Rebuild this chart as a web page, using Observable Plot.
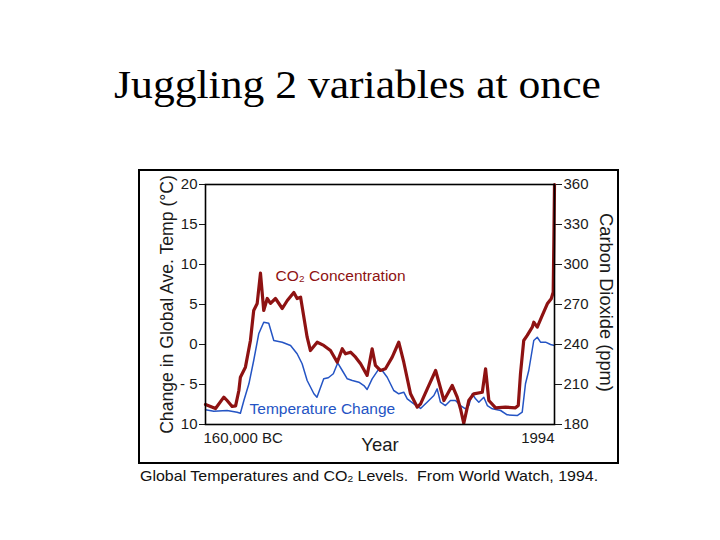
<!DOCTYPE html>
<html><head><meta charset="utf-8">
<script src="https://cdn.jsdelivr.net/npm/d3@7"></script>
<script src="https://cdn.jsdelivr.net/npm/@observablehq/plot@0.6"></script>
<style>
html,body{margin:0;padding:0;background:#fff;width:720px;height:540px;overflow:hidden;position:relative}
#title{position:absolute;left:0;width:715px;top:65px;text-align:center;font:40px/40px "Liberation Serif","Times New Roman",serif;color:#000;white-space:nowrap;transform:scaleX(1.09);transform-origin:357.5px 0}
#box{position:absolute;left:138px;top:169px;width:477px;height:291px;border:2px solid #000;background:#fff}
#chart{position:absolute;left:0;top:0}
#caption{position:absolute;left:140px;top:467px;font:15px/18px "Liberation Sans",Arial,sans-serif;color:#111;white-space:pre;transform:scaleX(1.065);transform-origin:0 0}
#caption sub{font-size:9.5px;vertical-align:-1px}
</style>
</head><body>
<div id="title">Juggling 2 variables at once</div>
<div id="box"><div id="chart"></div></div>
<div id="caption">Global Temperatures and CO<sub>2</sub> Levels.  From World Watch, 1994.</div>
<script>
// x: thousands of years relative to 1994 (−160 = 160,000 BC)
const co2Years = [-160,-155.4,-151.6,-150.1,-147.8,-146.2,-144.7,-144.0,-141.7,-139.4,-137.9,-136.3,-134.8,-133.3,-131.7,-130.2,-127.9,-124.8,-122.5,-119.5,-118.0,-116.4,-114.9,-113.4,-111.9,-108.8,-105.8,-102.7,-99.6,-97.3,-95.8,-93.5,-91.2,-88.9,-85.9,-83.6,-82.1,-79.8,-77.5,-74.4,-71.4,-69.1,-66.0,-62.9,-61.4,-57.6,-54.5,-53.0,-50.7,-46.9,-44.6,-43.1,-41.6,-39.3,-37.0,-33.1,-31.6,-30.1,-27.0,-22.5,-17.9,-16.6,-15.6,-14.1,-12.5,-10.2,-9.5,-7.9,-5.6,-3.3,-1.5,-0.6,-0.3,0];
const co2Values = [195,192,200.5,198,193.5,194,205.5,215.5,223,243,265.5,270.8,293.5,265.5,274.5,270.8,274.5,267,273,279,274.5,275.5,260.5,245.5,235.5,241.7,239.3,235.5,226.7,236.8,233,234.2,230.5,225.5,216.8,236.8,224.3,220.5,221.8,230.5,241.7,226.7,203,193,195.5,209.3,220.5,211.7,198,209.3,200.5,191.8,180.8,198,203,204.2,221.8,198,192.5,193,192.5,194.3,218,243,246.8,253,256.7,253,261.8,270.5,274.3,279.2,316.7,360];
const tempYears = [-160,-156.2,-150.1,-145.5,-144.0,-142.4,-140.1,-137.9,-135.6,-133.3,-131.0,-128.7,-124.8,-121.0,-118.0,-115.7,-113.4,-110.3,-108.9,-105.8,-103.7,-101.4,-99.4,-97.3,-95.0,-92.7,-89.7,-87.4,-85.9,-83.6,-80.5,-79.0,-76.7,-73.7,-71.4,-69.1,-67.5,-64.5,-61.4,-58.3,-55.3,-53.8,-52.3,-50.0,-47.7,-45.4,-43.1,-40.8,-39.3,-37.7,-36.2,-34.7,-32.4,-30.8,-28.5,-24.7,-21.7,-17.1,-14.8,-13.3,-11.8,-9.5,-7.9,-6.4,-4.1,-1.8,0];
const tempValues = [-8.16,-8.34,-8.25,-8.46,-8.59,-7.0,-4.91,-2.0,1.34,2.79,2.66,0.5,0.29,-0.13,-1.16,-2.41,-4.5,-6.16,-6.59,-4.29,-4.16,-3.66,-2.31,-3.25,-4.29,-4.5,-4.71,-5.13,-5.63,-4.29,-3.04,-3.25,-4.09,-5.75,-6.16,-5.96,-6.79,-7.41,-8.0,-7.19,-6.38,-5.54,-7.21,-7.63,-7.0,-7.0,-7.63,-8.04,-7.63,-6.16,-6.79,-7.21,-6.59,-7.63,-8.04,-8.25,-8.79,-8.88,-8.46,-4.91,-3.25,0.5,0.91,0.29,0.29,0,-0.13];

const tempTicks = [20,15,10,5,0,-5,-10];
const tempTickLabels = ["20","15","10","5","0","- 5","10"];
const co2Ticks = [360,330,300,270,240,210,180];
const xTicks = [-160, 0];
const xTickLabels = ["160,000 BC", "1994"];
const seriesLabels = ["CO₂ Concentration", "Temperature Change"];
const labelYears = [-127.9, -139.8];
const labelTemps = [8.6, -8.1];

// CO2 (ppm) shares the frame with temperature: 240 ppm ↔ 0 °C, 6 ppm per °C
const co2ToTemp = v => (v - 240) / 6;
const co2 = co2Years.map((x, i) => ({x, y: co2ToTemp(co2Values[i])}));
const temp = tempYears.map((x, i) => ({x, y: tempValues[i]}));
const labels = seriesLabels.map((t, i) => ({t, x: labelYears[i], y: labelTemps[i]}));

const RED = "#8e1212", BLUE = "#2454c4";
const font = '"Liberation Sans", Arial, Helvetica, sans-serif';

const chart = Plot.plot({
  width: 477, height: 291,
  marginLeft: 65, marginRight: 63, marginTop: 13, marginBottom: 38,
  style: {fontFamily: font, fontSize: "15px", color: "#1a1a1a", background: "transparent", overflow: "visible"},
  x: {domain: [-160, 0]},
  y: {domain: [-10, 20]},
  marks: [
    Plot.axisY(tempTicks, {anchor: "left", tickSize: 6, tickPadding: 2, label: null,
      tickFormat: d => tempTickLabels[tempTicks.indexOf(d)]}),
    Plot.axisY(co2Ticks.map(co2ToTemp), {anchor: "right", tickSize: 7, tickPadding: 2, label: null,
      tickFormat: d => String(Math.round(240 + d * 6))}),
    Plot.axisX([xTicks[0]], {anchor: "bottom", tickSize: 0, tickPadding: 8, textAnchor: "start", dx: -2, label: null,
      tickFormat: () => xTickLabels[0]}),
    Plot.axisX([xTicks[1]], {anchor: "bottom", tickSize: 0, tickPadding: 8, textAnchor: "end", label: null,
      tickFormat: () => xTickLabels[1]}),
    Plot.line(temp, {x: "x", y: "y", stroke: BLUE, strokeWidth: 1.5, curve: "linear"}),
    Plot.line(co2, {x: "x", y: "y", stroke: RED, strokeWidth: 3.2, strokeLinejoin: "round"}),
    Plot.frame({stroke: "#000", strokeWidth: 1.6}),
    Plot.text(labels, {x: "x", y: "y", text: "t", textAnchor: "start", fontSize: 15.5,
      fill: (d, i) => i === 0 ? RED : BLUE}),
    Plot.text(["Change in Global Ave. Temp (°C)"], {frameAnchor: "left", textAnchor: "middle", rotate: -90, dx: -38, fontSize: 17.6, fill: "#1a1a1a"}),
    Plot.text(["Carbon Dioxide (ppm)"], {frameAnchor: "right", textAnchor: "middle", rotate: 90, dx: 51, dy: -2, fontSize: 18.3, fill: "#1a1a1a"}),
    Plot.text(["Year"], {frameAnchor: "bottom", dy: 26, fontSize: 18.5, fill: "#1a1a1a"})
  ]
});
document.getElementById("chart").appendChild(chart);
</script>
</body></html>
